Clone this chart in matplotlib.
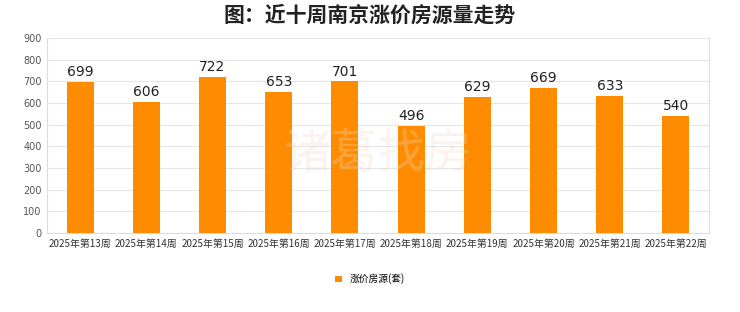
import matplotlib
matplotlib.use("Agg")
import matplotlib.pyplot as plt

plt.rcParams['font.family'] = ['Noto Sans CJK SC', 'DejaVu Sans']

categories = ["2025年第13周", "2025年第14周", "2025年第15周", "2025年第16周", "2025年第17周",
              "2025年第18周", "2025年第19周", "2025年第20周", "2025年第21周", "2025年第22周"]
values = [699, 606, 722, 653, 701, 496, 629, 669, 633, 540]
yticks = [0, 100, 200, 300, 400, 500, 600, 700, 800, 900]
series_name = "涨价房源(套)"
title = "图：近十周南京涨价房源量走势"

fig = plt.figure(figsize=(7.4, 3.12), dpi=100)
ax = fig.add_axes([47/740, 1-233/312, (709-47)/740, (233-38)/312])

x = list(range(len(categories)))
bars = ax.bar(x, values, width=0.41, color="#FF8C00", zorder=3, label=series_name)
for xi, v in zip(x, values):
    ax.text(xi, v + 12, str(v), ha="center", va="bottom", fontsize=10, color="#222222",
            family=['DejaVu Sans'], zorder=5)

ax.set_xlim(-0.5, len(categories) - 0.5)
ax.set_ylim(0, 900)
ax.set_yticks(yticks)
ax.set_yticklabels([str(t) for t in yticks], fontsize=7, color="#555555", family=['DejaVu Sans'])
ax.set_xticks(x)
ax.set_xticklabels(categories, fontsize=7.1, color="#333333")
ax.tick_params(axis="both", length=0, pad=4)
ax.yaxis.grid(True, color="#E6E6E6", linewidth=0.8, zorder=0)
ax.spines["top"].set_visible(False)
for s in ["left", "bottom", "right"]:
    ax.spines[s].set_color("#DDDDDD")
    ax.spines[s].set_linewidth(0.8)

fig.text(0.5, 1-15/312, title, ha="center", va="center", fontsize=15, fontweight="bold", color="#222222")

ax.text(0.50, 0.40, "诸葛找房", transform=ax.transAxes, ha="center", va="center",
        fontsize=34, color="#F3D9C4", alpha=0.3, zorder=4)

leg = fig.legend(handles=[bars], labels=[series_name], loc="center", bbox_to_anchor=(0.5, 1-279/312),
                 frameon=False, fontsize=7, handlelength=0.7, handleheight=0.7, handletextpad=0.8)

fig.savefig("out.png", dpi=100, facecolor="white")
